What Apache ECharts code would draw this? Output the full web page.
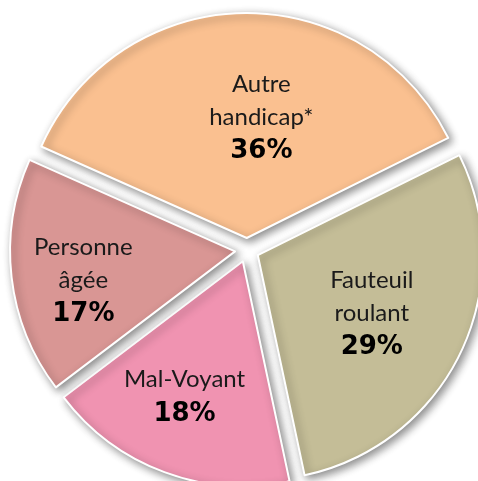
<!DOCTYPE html>
<html>
<head>
<meta charset="utf-8">
<script src="https://cdn.jsdelivr.net/npm/echarts@6/dist/echarts.min.js"></script>
<style>
  html, body { margin: 0; padding: 0; background: #fff; }
  #chart { width: 478px; height: 481px; }
</style>
</head>
<body>
<div id="chart"></div>
<script>
// catégories et parts (%)
const categories = ['Autre\nhandicap*', 'Fauteuil\nroulant', 'Mal-Voyant', 'Personne\nâgée']
const shares = [36, 29, 18, 17]
const colors = ['#FAC090', '#C4BD97', '#F093B1', '#D99694']

// décalage des étiquettes par rapport à la position "inside"
const labelShift = [[17, -4], [10, 9], [-18, 28], [-37, 17]]

const chart = echarts.init(document.getElementById('chart'))

const itemStyle = {
  borderColor: '#fff',
  borderWidth: 2,
  shadowBlur: 8,
  shadowColor: 'rgba(0, 0, 0, 0.45)',
  shadowOffsetX: 3,
  shadowOffsetY: 3
}

const option = {
  backgroundColor: '#fff',
  animation: false,
  series: [
    {
      type: 'pie',
      center: [247, 250],
      radius: 225,
      startAngle: 156,
      clockwise: true,
      selectedMode: 'multiple',
      selectedOffset: 12,
      silent: true,
      itemStyle: itemStyle,
      select: { itemStyle: itemStyle },
      label: {
        show: true,
        position: 'inside',
        formatter: '{n|{b}}\n{p|{c}%}',
        rich: {
          n: {
            fontFamily: 'Lato',
            fontSize: 24,
            color: '#1a1a1a',
            lineHeight: 33,
            align: 'center'
          },
          p: {
            fontFamily: 'DejaVu Sans',
            fontWeight: 'bold',
            fontSize: 26,
            color: '#000',
            lineHeight: 36,
            align: 'center'
          }
        }
      },
      labelLayout: params => ({
        dx: labelShift[params.dataIndex][0],
        dy: labelShift[params.dataIndex][1]
      }),
      labelLine: { show: false },
      data: categories.map((name, i) => ({
        name: name,
        value: shares[i],
        selected: true,
        itemStyle: { color: colors[i] }
      }))
    }
  ]
}

chart.setOption(option)
</script>
</body>
</html>
